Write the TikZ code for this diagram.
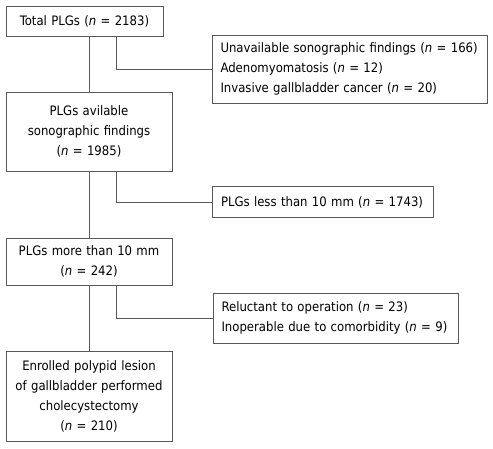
\documentclass[tikz,border=0pt]{standalone}
\usepackage{fontspec}
\setmainfont{DejaVu Sans Condensed}
\begin{document}
\begin{tikzpicture}[x=1pt,y=-1pt,
  box/.style={draw=black!65, line width=0.8pt, inner ysep=0pt, font=\fontsize{13}{20}\selectfont},
  cbox/.style={box, align=center, inner xsep=0pt},
  lbox/.style={box, align=left, inner xsep=8.5pt},
  conn/.style={draw=black!65, line width=0.8pt}]
\useasboundingbox (0,0) rectangle (493,449);
\node[cbox, text width=157pt, minimum height=30pt] (b1) at (84.5,21.5) {Total PLGs (\textit{n} = 2183)};
\node[lbox, text width=258pt, minimum height=68pt] (r1) at (349.5,69) {Unavailable sonographic findings (\textit{n} = 166)\\Adenomyomatosis (\textit{n} = 12)\\Invasive gallbladder cancer (\textit{n} = 20)};
\node[cbox, text width=166pt, minimum height=79pt] (b2) at (89,131.5) {PLGs avilable\\sonographic findings\\(\textit{n} = 1985)};
\node[lbox, text width=204pt, minimum height=31pt] (r2) at (323,202) {PLGs less than 10 mm (\textit{n} = 1743)};
\node[cbox, text width=166pt, minimum height=47pt] (b3) at (89,261.5) {PLGs more than 10 mm\\(\textit{n} = 242)};
\node[lbox, text width=228pt, minimum height=50pt] (r3) at (335.5,318) {Reluctant to operation (\textit{n} = 23)\\Inoperable due to comorbidity (\textit{n} = 9)};
\node[cbox, text width=166pt, minimum height=90pt] (b4) at (89,396) {Enrolled polypid lesion\\of gallbladder performed\\cholecystectomy\\(\textit{n} = 210)};
\coordinate (m) at (89,0);
\coordinate (br) at (116,0);
\draw[conn] (b1.south -| m) -- (b2.north -| m);
\draw[conn] (b2.south -| m) -- (b3.north -| m);
\draw[conn] (b3.south -| m) -- (b4.north -| m);
\draw[conn] (b1.south -| br) |- (r1.west);
\draw[conn] (b2.south -| br) |- (r2.west);
\draw[conn] (b3.south -| br) |- (r3.west);
\end{tikzpicture}
\end{document}
